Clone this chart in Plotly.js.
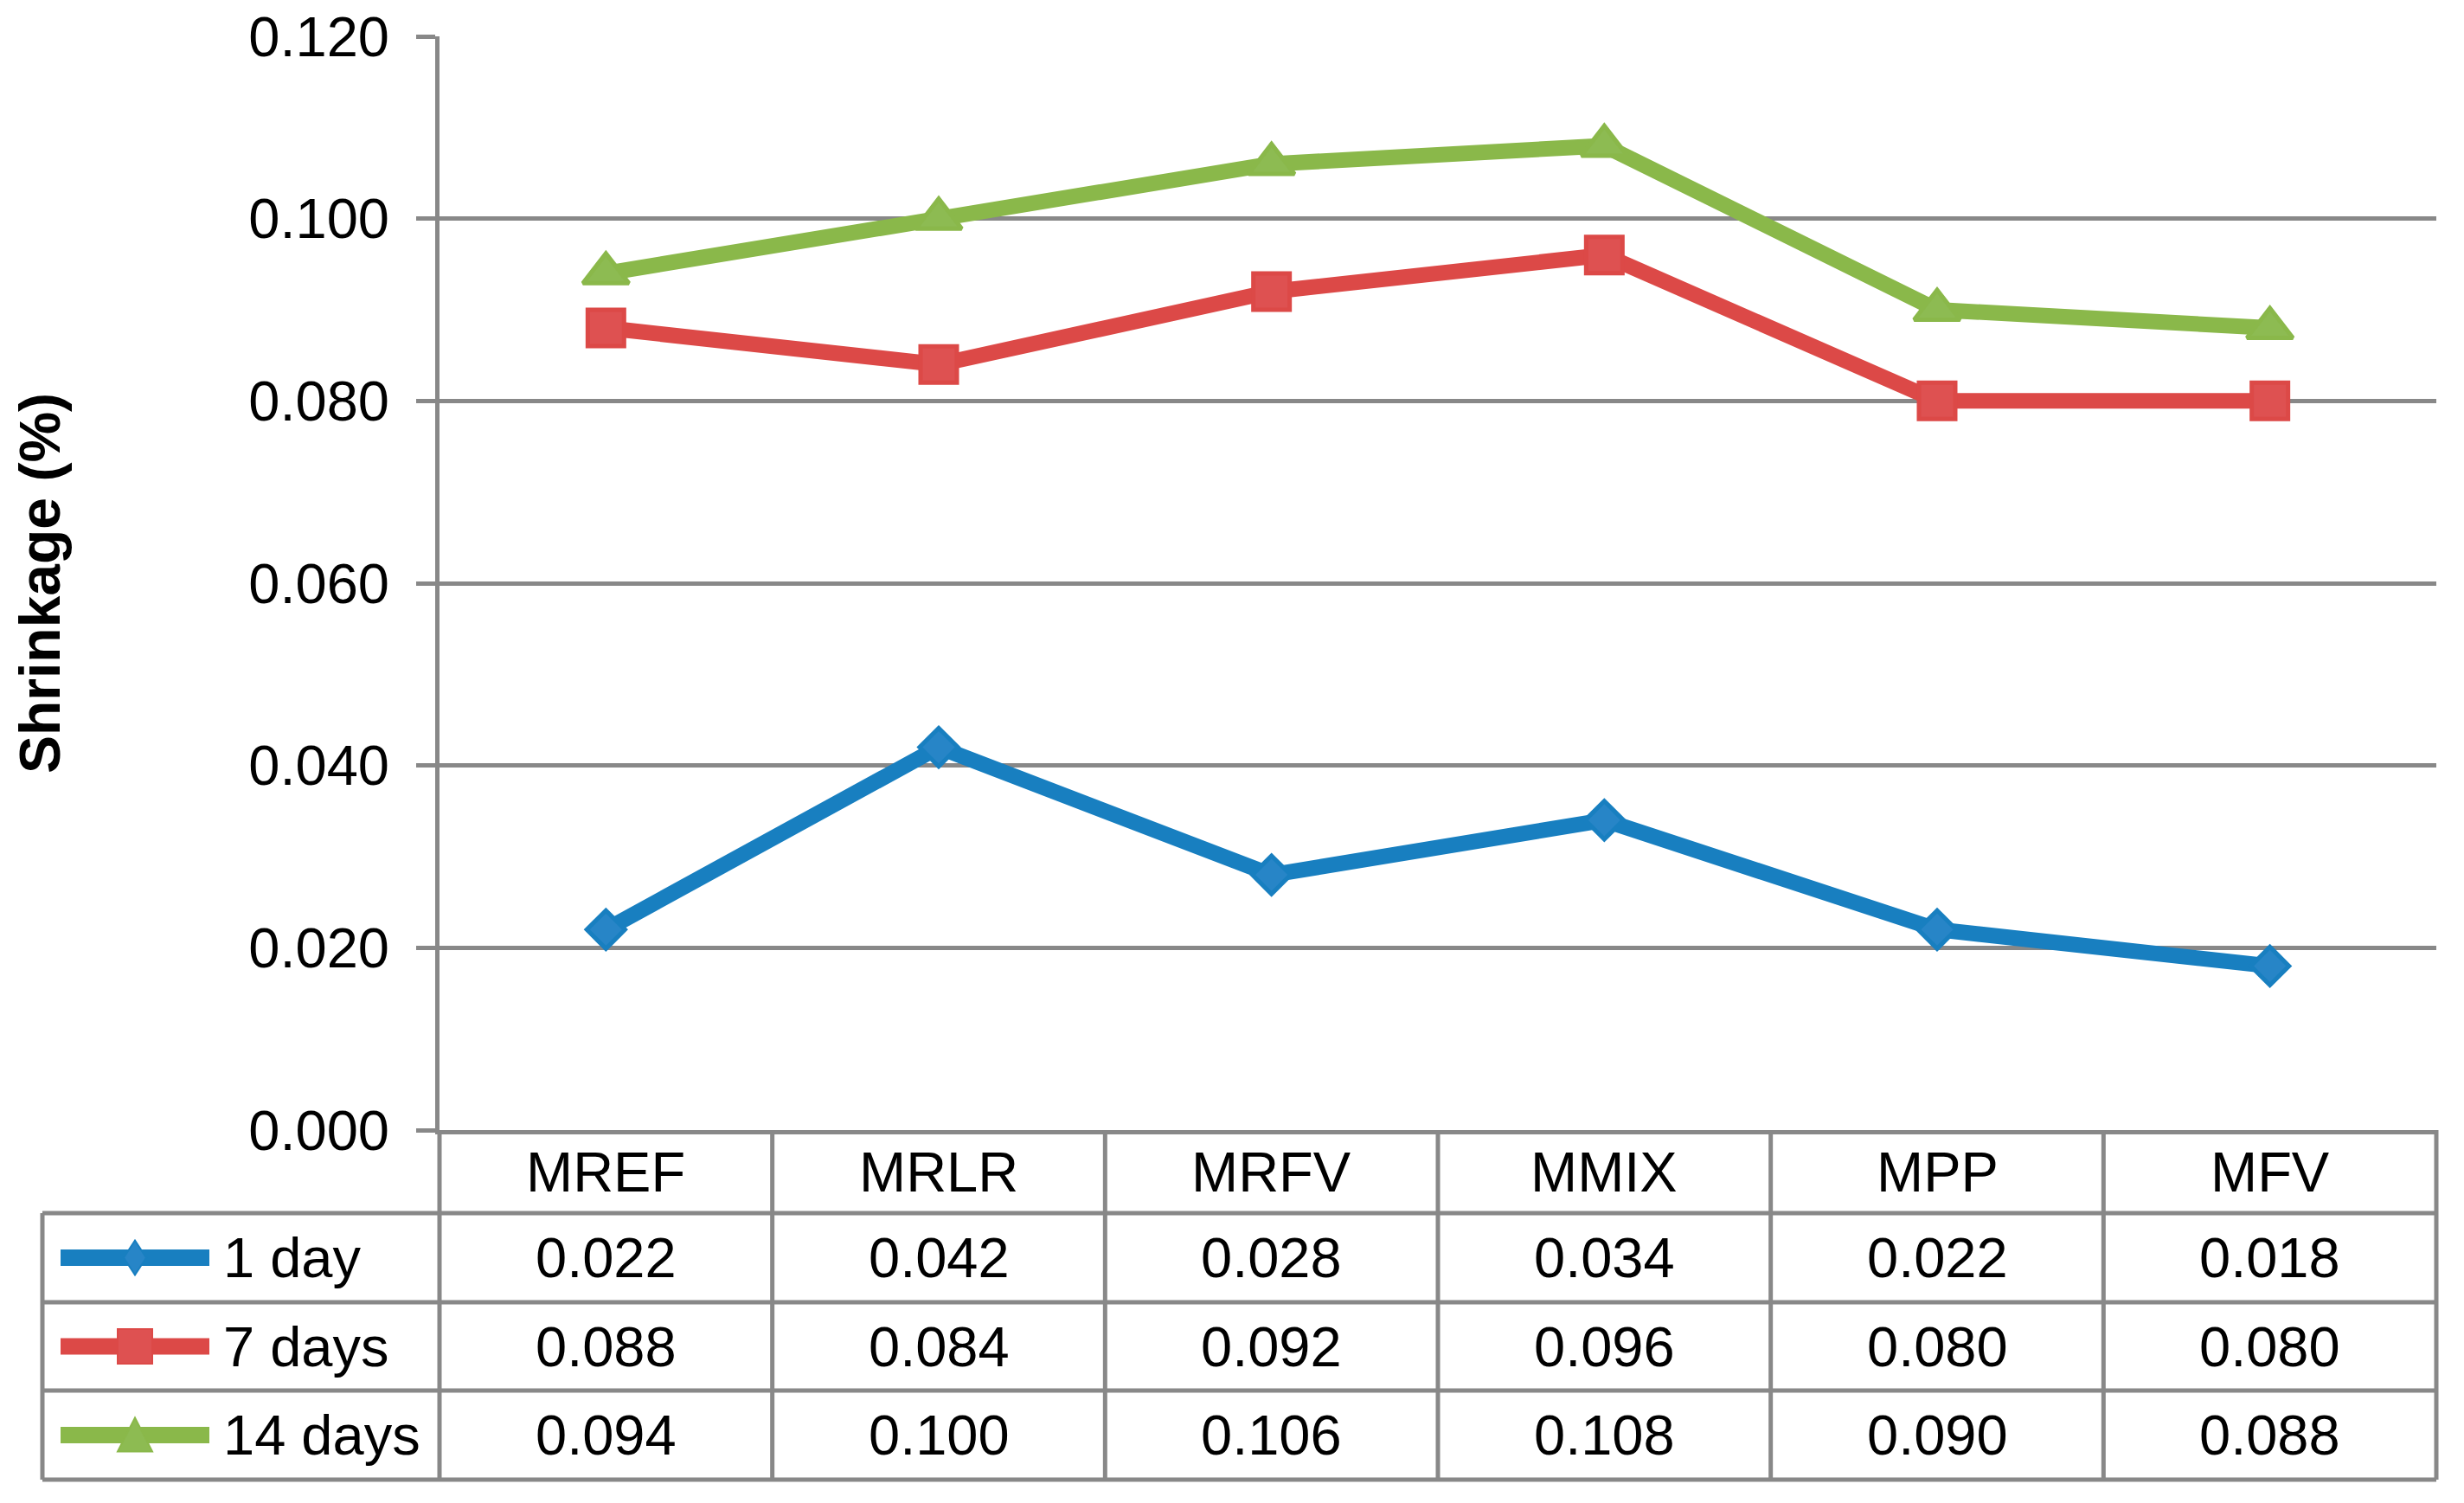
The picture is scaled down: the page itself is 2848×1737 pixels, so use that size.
<!DOCTYPE html>
<html>
<head>
<meta charset="utf-8">
<script src="https://cdn.plot.ly/plotly-3.0.1.min.js"></script>
<style>html,body{margin:0;padding:0;background:#fff;}#chart{width:2848px;height:1737px;}</style>
</head>
<body>
<div id="chart"></div>
<script>
// ---- data ----
const categories = ['MREF', 'MRLR', 'MRFV', 'MMIX', 'MPP', 'MFV'];
const day1 = [0.022, 0.042, 0.028, 0.034, 0.022, 0.018];
const day7 = [0.088, 0.084, 0.092, 0.096, 0.080, 0.080];
const day14 = [0.094, 0.100, 0.106, 0.108, 0.090, 0.088];
const seriesNames = ['1 day', '7 days', '14 days'];
const yTickVals = [0, 0.02, 0.04, 0.06, 0.08, 0.10, 0.12];
const yTitle = 'Shrinkage (%)';

// ---- styling ----
const W = 2848, H = 1737;
const M = {l: 508, r: 32, t: 42, b: 431};
const PW = W - M.l - M.r, PH = H - M.t - M.b;
const FONT = 'Liberation Sans, Arial, sans-serif';
const FS = 65;
const GRID = '#888888';
const GW = 5;
const lineColors = ['#187FC0', '#DC4947', '#8AB84A'];
const fillColors = ['#2785C7', '#DE5151', '#8DBB52'];
const symbols = ['diamond', 'square', 'triangle-up'];
const msizes = [34, 42, 46];
const series = [day1, day7, day14];

const px = x => (x - M.l) / PW;
const py = y => (H - M.b - y) / PH;

const traces = series.map((vals, i) => ({
  type: 'scatter', mode: 'lines+markers', name: seriesNames[i],
  x: categories, y: vals,
  line: {color: lineColors[i], width: 18},
  marker: {symbol: symbols[i], size: msizes[i], color: fillColors[i], line: {color: lineColors[i], width: 5}},
  showlegend: false, cliponaxis: false
}));

// table geometry (pixels)
const rowEdges = [1306, 1402, 1505, 1607, 1710];
const tableLeft = 49;
const shapes = [];
const gline = (x0, y0, x1, y1, xref) => ({type: 'line', xref: xref || 'paper', yref: 'paper', x0, y0, x1, y1, line: {color: GRID, width: GW}, layer: 'above'});
// y axis line extension through the table
shapes.push(gline(0, 0, 0, py(rowEdges[4])));
// column dividers
for (let i = 0; i < categories.length - 1; i++) {
  shapes.push(gline(i + 0.5, 0, i + 0.5, py(rowEdges[4]), 'x'));
}
// right border
shapes.push(gline(1, 0, 1, py(rowEdges[4])));
// horizontal rules
for (let r = 1; r < rowEdges.length; r++) {
  shapes.push(gline(px(tableLeft), py(rowEdges[r]), 1, py(rowEdges[r])));
}
// left border
shapes.push(gline(px(tableLeft), py(rowEdges[1]), px(tableLeft), py(rowEdges[4])));

// legend keys
const keyPaths = [
  'M0,20 L13,0 L0,-20 L-13,0 Z',
  'M-20,-20 L20,-20 L20,20 L-20,20 Z',
  'M-20,-19 L20,-19 L0,20 Z'
];
const annotations = [];
for (let s = 0; s < 3; s++) {
  const yc = (rowEdges[s + 1] + rowEdges[s + 2]) / 2;
  shapes.push({type: 'line', xref: 'paper', yref: 'paper', x0: px(70), x1: px(242), y0: py(yc), y1: py(yc), line: {color: lineColors[s], width: 19}, layer: 'above'});
  shapes.push({type: 'path', xref: 'paper', yref: 'paper', xsizemode: 'pixel', ysizemode: 'pixel', xanchor: px(156), yanchor: py(yc), path: keyPaths[s], fillcolor: fillColors[s], line: {color: lineColors[s], width: 2}, layer: 'above'});
  annotations.push({xref: 'paper', yref: 'paper', x: px(256), y: py(yc), xanchor: 'left', yanchor: 'middle', text: seriesNames[s], showarrow: false, font: {family: FONT, size: FS, color: '#000'}});
  series[s].forEach((v, i) => {
    annotations.push({xref: 'x', yref: 'paper', x: categories[i], y: py(yc), xanchor: 'center', yanchor: 'middle', text: v.toFixed(3), showarrow: false, font: {family: FONT, size: FS, color: '#000'}});
  });
}
// header row
const hc = (rowEdges[0] + rowEdges[1]) / 2;
categories.forEach(c => {
  annotations.push({xref: 'x', yref: 'paper', x: c, y: py(hc), xanchor: 'center', yanchor: 'middle', text: c, showarrow: false, font: {family: FONT, size: FS, color: '#000'}});
});

const layout = {
  width: W, height: H,
  margin: {l: M.l, r: M.r, t: M.t, b: M.b, autoexpand: false},
  paper_bgcolor: '#fff', plot_bgcolor: '#fff',
  font: {family: FONT, size: FS, color: '#000'},
  showlegend: false,
  xaxis: {
    type: 'category', range: [-0.5, categories.length - 0.5],
    showgrid: false, zeroline: false, showticklabels: false, ticks: '',
    showline: true, linecolor: GRID, linewidth: GW, fixedrange: true
  },
  yaxis: {
    range: [0, 0.12], tickvals: yTickVals, tickformat: '.3f',
    showgrid: true, gridcolor: GRID, gridwidth: GW, zeroline: false,
    showline: true, linecolor: GRID, linewidth: GW,
    ticks: 'outside', ticklen: 22, tickwidth: GW, tickcolor: GRID,
    ticklabelstandoff: 18,
    tickfont: {family: FONT, size: FS, color: '#000'},
    title: {text: yTitle, font: {family: FONT, size: 66, color: '#000', weight: 'bold'}, standoff: 198},
    automargin: false, fixedrange: true
  },
  shapes, annotations
};

Plotly.newPlot('chart', traces, layout, {displayModeBar: false, staticPlot: true});
</script>
</body>
</html>
